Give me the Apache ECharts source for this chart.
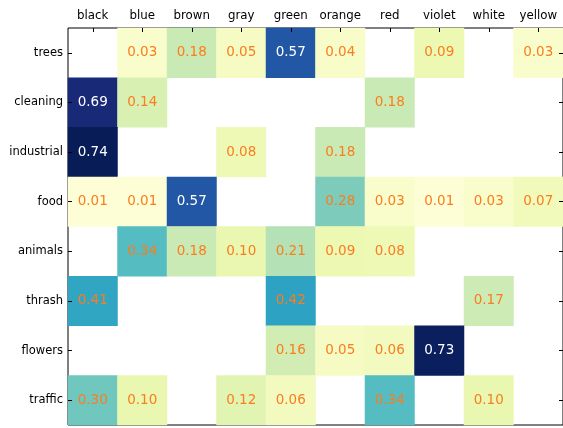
<!DOCTYPE html>
<html><head><meta charset="utf-8">
<script src="https://cdn.jsdelivr.net/npm/echarts@6/dist/echarts.min.js"></script>
<style>html,body{margin:0;padding:0;background:#fff}#c{width:563px;height:428px}</style>
</head><body><div id="c"></div>
<script>
const colors = ['black','blue','brown','gray','green','orange','red','violet','white','yellow'];
const sources = ['trees','cleaning','industrial','food','animals','thrash','flowers','traffic'];
// null = empty cell
const trees      = [null,0.03,0.18,0.05,0.57,0.04,null,0.09,null,0.03];
const cleaning   = [0.69,0.14,null,null,null,null,0.18,null,null,null];
const industrial = [0.74,null,null,0.08,null,0.18,null,null,null,null];
const food       = [0.01,0.01,0.57,null,null,0.28,0.03,0.01,0.03,0.07];
const animals    = [null,0.34,0.18,0.10,0.21,0.09,0.08,null,null,null];
const thrash     = [0.41,null,null,null,0.42,null,null,null,0.17,null];
const flowers    = [null,null,null,null,0.16,0.05,0.06,0.73,null,null];
const traffic    = [0.30,0.10,null,0.12,0.06,null,0.34,null,0.10,null];
const rows = [trees,cleaning,industrial,food,animals,thrash,flowers,traffic];

const data = [];
rows.forEach((r,yi)=>r.forEach((v,xi)=>{
  if(v!==null) data.push({value:[xi,yi,v],label:{color: v>0.5?'#ffffff':'#fa7d1e'}});
}));

const chart = echarts.init(document.getElementById('c'));
const font = 'DejaVu Sans';
chart.setOption({
  animation:false,
  grid:{left:68,top:28,width:497,height:397,show:true,borderColor:'#000',borderWidth:1,backgroundColor:'transparent'},
  xAxis:{type:'category',data:colors,position:'top',z:5,
    axisLine:{show:false},
    axisTick:{show:true,inside:true,alignWithLabel:true,interval:0,length:4,lineStyle:{color:'#000'}},
    axisLabel:{color:'#000',fontFamily:font,fontSize:11.8,margin:6,interval:0},
    splitLine:{show:false}},
  yAxis:[{type:'category',data:sources,inverse:true,z:5,
    axisLine:{show:false},
    axisTick:{show:true,inside:true,alignWithLabel:true,interval:0,length:4,lineStyle:{color:'#000'}},
    axisLabel:{color:'#000',fontFamily:font,fontSize:11.5,margin:5,interval:0},
    splitLine:{show:false}},
   {type:'category',data:sources,inverse:true,position:'right',z:5,
    axisLine:{show:false},
    axisTick:{show:true,inside:true,alignWithLabel:true,interval:0,length:4,lineStyle:{color:'#000'}},
    axisLabel:{show:false},splitLine:{show:false}}],
  visualMap:{show:false,min:0,max:0.74,dimension:2,
    inRange:{color:['#ffffd9','#edf8b1','#c7e9b4','#7fcdbb','#41b6c4','#1d91c0','#225ea8','#253494','#081d58']}},
  series:[{type:'heatmap',data:data,
    label:{show:true,fontFamily:font,fontSize:13.5,formatter:p=>p.value[2].toFixed(2)},
    itemStyle:{borderWidth:0}}]
});
</script></body></html>
